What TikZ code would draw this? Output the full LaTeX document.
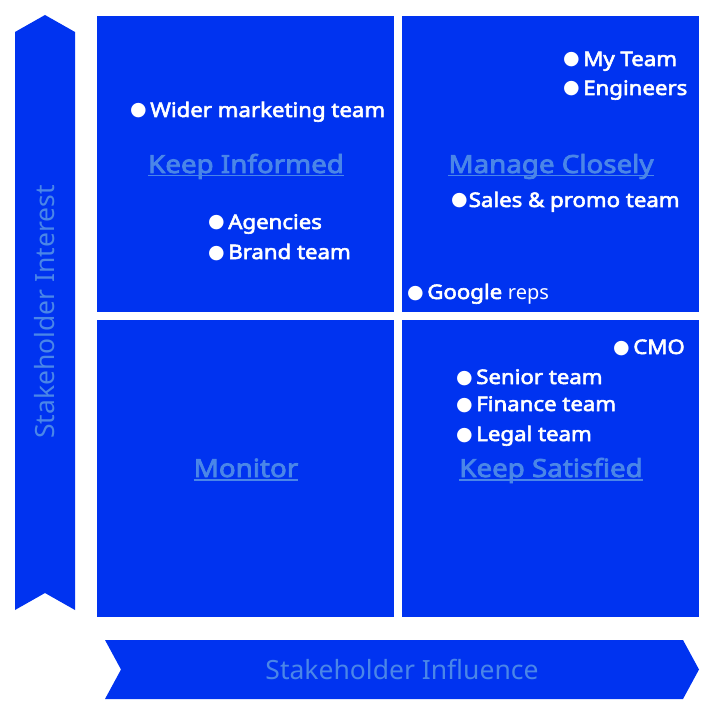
\documentclass[tikz,border=0pt]{standalone}
\usepackage{fontspec}
\setmainfont{Noto Sans}[BoldFont={Noto Sans}, BoldFeatures={FakeBold=3, FakeStretch=1.11}]
\newfontfamily\dotfont{DejaVu Sans}
\definecolor{quadblue}{RGB}{0,51,240}
\definecolor{headblue}{RGB}{74,134,232}
\newcommand{\bul}{\raisebox{1pt}{\dotfont\fontsize{19}{20}\selectfont\char"25CF}}
\newcommand{\ulin}[1]{\setbox0=\hbox{#1}\rlap{\rule[-3.5pt]{\wd0}{1.6pt}}\box0}

\begin{document}
\begin{tikzpicture}[x=1pt, y=-1pt,
    quad/.style={fill=quadblue},
    item/.style={anchor=base west, inner sep=0pt, text=white, font=\fontsize{20}{24}\selectfont\bfseries},
    heading/.style={anchor=base, inner sep=0pt, text=headblue, font=\fontsize{25}{30}\selectfont\bfseries},
    axis/.style={inner sep=0pt, text=headblue, font=\fontsize{26.5}{30}\selectfont}]
                    \useasboundingbox (0,0) rectangle (722,719);
                    % Arrows
                    \fill[quadblue] (15,32) -- (45,15) -- (75,32) -- (75,610) -- (45,593) -- (15,610) -- cycle;
                    \fill[quadblue] (105,640) -- (683,640) -- (699,669.5) -- (683,699) -- (105,699) -- (121,669.5) -- cycle;
                    % Quadrants
                    \fill[quad] (97,16) rectangle (394,312);
                    \fill[quad] (402,16) rectangle (699,312);
                    \fill[quad] (97,320) rectangle (394,617);
                    \fill[quad] (402,320) rectangle (699,617);
                    % Headings
                    \node[heading] (informed) at (246,173) {\ulin{Keep Informed}};
                    \node[heading] (closely) at (551,173) {\ulin{Manage Closely}};
                    \node[heading] (monitor) at (246,477) {\ulin{Monitor}};
                    \node[heading] (satisfied) at (551,477) {\ulin{Keep Satisfied}};
                    % Stakeholders
                    \node[item] (wider) at (130,117) {\bul\hspace{3.5pt}Wider marketing team};
                    \node[item] (agencies) at (208,229) {\bul\hspace{3.5pt}Agencies};
                    \node[item] (brand) at (208,259) {\bul\hspace{3.5pt}Brand team};
                    \node[item] (myteam) at (563,66) {\bul\hspace{3.5pt}My Team};
                    \node[item] (engineers) at (563,95) {\bul\hspace{3.5pt}Engineers};
                    \node[item] (sales) at (451,207) {\bul\hspace{1pt}Sales \& promo team};
                    \node[item] (google) at (407,299) {\bul\hspace{3.5pt}Google {\mdseries reps}};
                    \node[item] (cmo) at (613,354) {\bul\hspace{3.5pt}CMO};
                    \node[item] (senior) at (456,384) {\bul\hspace{3.5pt}Senior team};
                    \node[item] (finance) at (456,411) {\bul\hspace{3.5pt}Finance team};
                    \node[item] (legal) at (456,441) {\bul\hspace{3.5pt}Legal team};
                    % Axis labels
                    \node[axis] (influence) at (402,669.5) {Stakeholder Influence};
                    \node[axis, rotate=90] (interest) at (45,312) {Stakeholder Interest};
                \end{tikzpicture}
\end{document}
